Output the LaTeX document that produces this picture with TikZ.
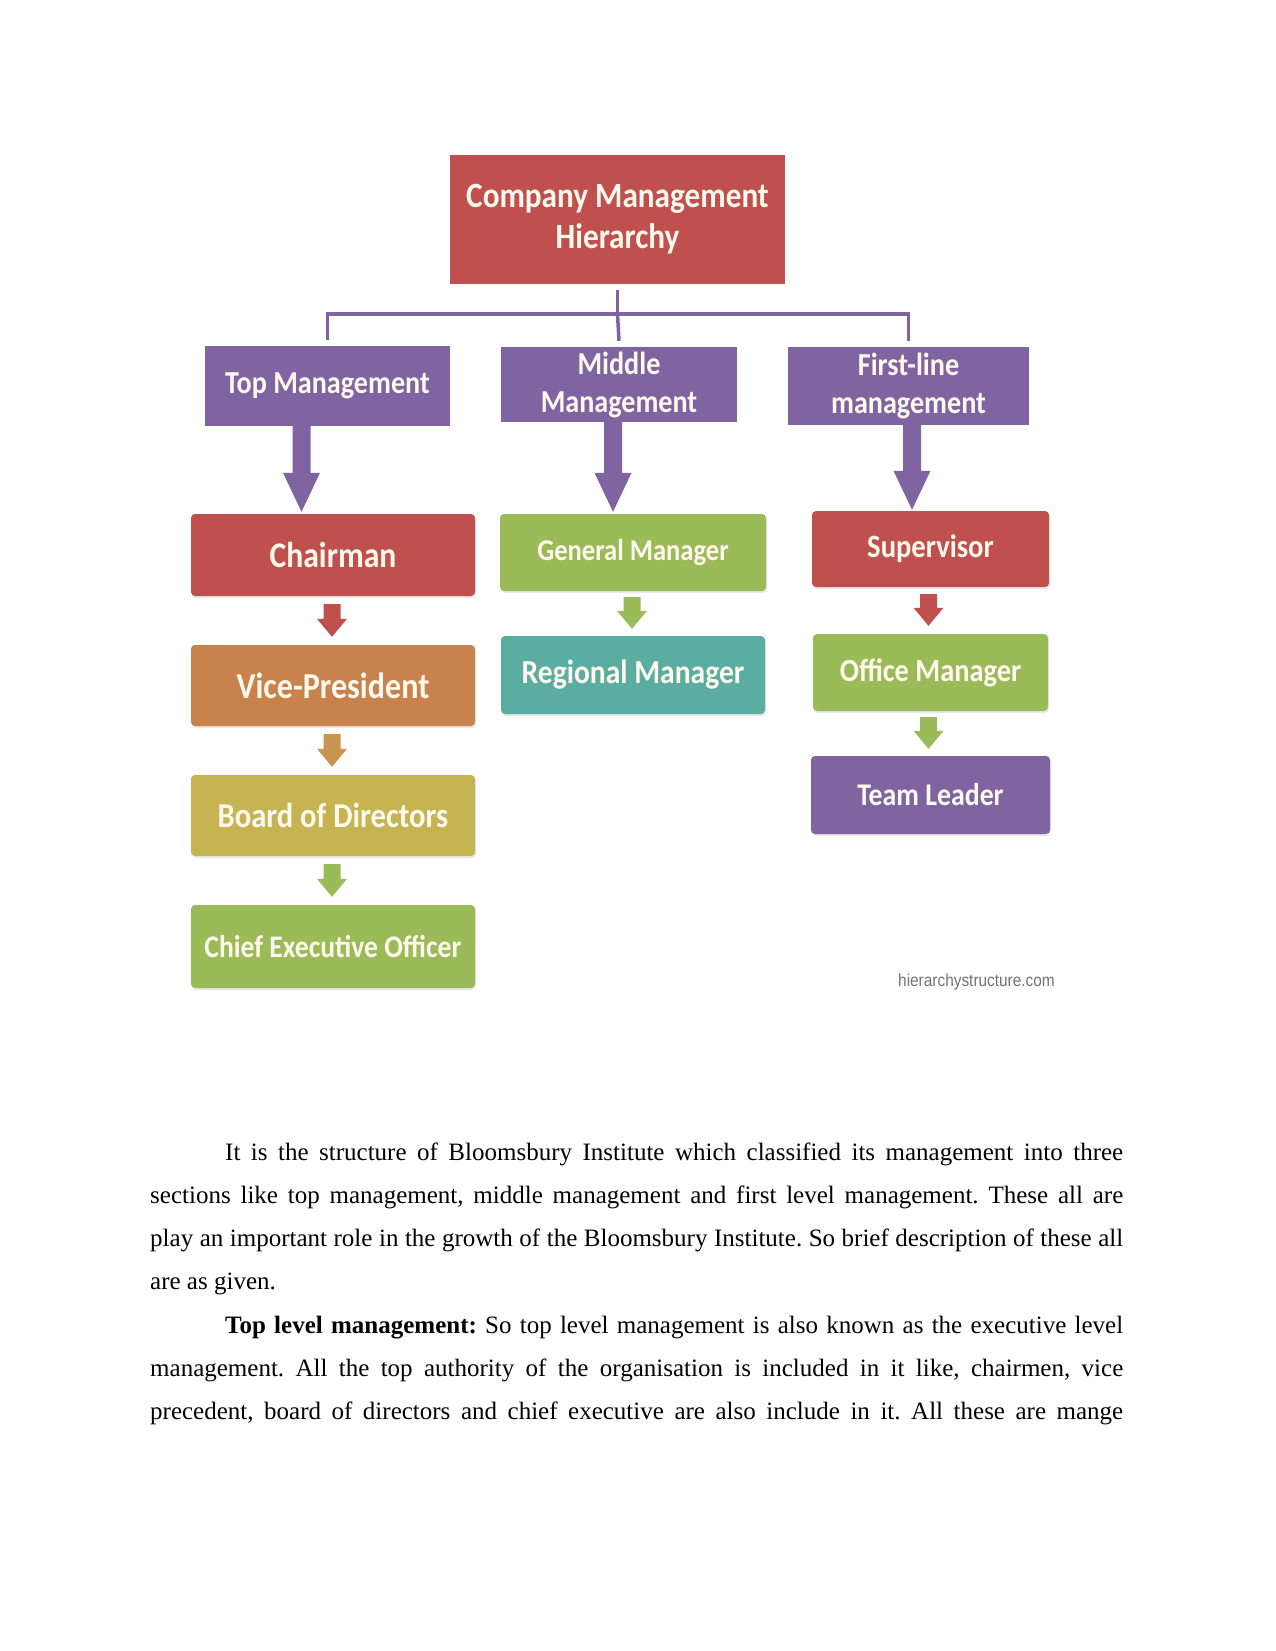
\documentclass[tikz,border=0pt]{standalone}
\usepackage{fontspec}
\setmainfont{Liberation Serif}
\newfontfamily\boxfont{Carlito}[FakeStretch=0.88]
\newfontfamily\webfont{Liberation Sans}[FakeStretch=0.88]
\usetikzlibrary{calc,shadows}
\definecolor{cred}{HTML}{C0504D}
\definecolor{cpurp}{HTML}{8064A2}
\definecolor{cgreen}{HTML}{9BBB59}
\definecolor{cteal}{HTML}{5BADA2}
\definecolor{corange}{HTML}{C8824B}
\definecolor{carrorange}{HTML}{C9944F}
\definecolor{colive}{HTML}{C6B452}
\definecolor{ctext}{HTML}{FFF9EE}
\newcommand\fs[2]{\fontsize{#1}{#2}\selectfont}
% block arrow: colour, start point, tip point, shaft half width, head half width, head length
\newcommand\blockarr[6]{\fill[#1] let \p1=(#2), \p2=(#3) in
  (\x1-#4,\y1) -- (\x1-#4,\y2+#6) -- (\x1-#5,\y2+#6) -- (\x1,\y2) --
  (\x1+#5,\y2+#6) -- (\x1+#4,\y2+#6) -- (\x1+#4,\y1) -- cycle;}
\begin{document}
\begin{tikzpicture}[x=1pt,y=-1pt,
  hbox/.style={fill=#1, text=ctext, align=center, inner sep=0pt},
  lbox/.style={hbox=#1, rounded corners=4pt,
    drop shadow={shadow xshift=1pt,shadow yshift=-2pt,opacity=0.18}},
  bf/.style={font=\boxfont\bfseries\fs{#1}{38}},
  conn/.style={draw=cpurp, line width=3.5pt}]
\useasboundingbox (0,0) rectangle (1275,1651);
\fill[white] (0,0) rectangle (1275,1651);

% title
\node[hbox=cred, font=\boxfont\bfseries\fs{35.5}{41}, minimum width=335pt, minimum height=129pt] (title) at (617.5,219.5)
  {Company Management\\Hierarchy};

% level 2
\node[hbox=cpurp, bf=32, minimum width=245pt, minimum height=80pt] (topm) at (327.5,386)
  {Top Management};
\node[hbox=cpurp, bf=32, minimum width=236pt, minimum height=75pt] (midm) at (619,384.5)
  {Middle\\Management};
\node[hbox=cpurp, bf=32, minimum width=241pt, minimum height=78pt] (firstm) at (908.5,386)
  {First-line\\management};

% tree connector
\coordinate (hub) at ($(title.south)+(0,30)$);
\draw[conn] ([yshift=-6pt]title.south) -- (hub);
\draw[conn] ([yshift=6pt]topm.north) |- (hub) -| ([yshift=6pt]firstm.north);
\draw[conn] (hub) -- ([yshift=6pt]midm.north);

% left column
\node[lbox=cred, bf=36, minimum width=284pt, minimum height=82pt] (chair) at (333,555)
  {Chairman};
\node[lbox=corange, bf=36.5, minimum width=284pt, minimum height=81pt] (vp) at (333,685.5)
  {Vice-President};
\node[lbox=colive, bf=34.8, minimum width=284pt, minimum height=81pt] (board) at (333,815.5)
  {Board of Directors};
\node[lbox=cgreen, bf=31.4, minimum width=284pt, minimum height=83pt] (ceo) at (333,946.5)
  {Chief Executive Officer};

% middle column
\node[lbox=cgreen, bf=30.2, minimum width=266pt, minimum height=77pt] (gm) at (633,552.5)
  {General Manager};
\node[lbox=cteal, bf=33.6, minimum width=264pt, minimum height=78pt] (rm) at (633,675)
  {Regional Manager};

% right column
\node[lbox=cred, bf=32.5, minimum width=237pt, minimum height=76pt] (sup) at (930.5,549)
  {Supervisor};
\node[lbox=cgreen, bf=32.3, minimum width=235pt, minimum height=77pt] (office) at (930.5,672.5)
  {Office Manager};
\node[lbox=cpurp, bf=31.6, minimum width=239pt, minimum height=78pt] (team) at (930.5,795)
  {Team Leader};

% big arrows
\blockarr{cpurp}{[xshift=-26pt]topm.south}{[xshift=-26pt,yshift=2pt]chair.north}{9pt}{18.5pt}{39pt}
\blockarr{cpurp}{[xshift=-6pt]midm.south}{[yshift=2pt]gm.north}{9pt}{18.5pt}{39pt}
\blockarr{cpurp}{[xshift=3.5pt]firstm.south}{[yshift=1pt]sup.north}{9pt}{18.5pt}{39pt}

% small arrows
\blockarr{cred}{[xshift=-1pt,yshift=-8pt]chair.south}{[yshift=8pt]vp.north}{8.5pt}{15pt}{18pt}
\blockarr{carrorange}{[xshift=-1pt,yshift=-8pt]vp.south}{[yshift=8pt]board.north}{8.5pt}{15pt}{18pt}
\blockarr{cgreen}{[xshift=-1pt,yshift=-8pt]board.south}{[yshift=8pt]ceo.north}{8.5pt}{15pt}{18pt}
\blockarr{cgreen}{[xshift=-1pt,yshift=-6pt]gm.south}{[yshift=7pt]rm.north}{8.5pt}{15pt}{18pt}
\blockarr{cred}{[xshift=-2pt,yshift=-7pt]sup.south}{[yshift=8pt]office.north}{8.5pt}{15pt}{18pt}
\blockarr{cgreen}{[xshift=-2pt,yshift=-6pt]office.south}{[yshift=7pt]team.north}{8.5pt}{15pt}{18pt}

% credit
\node[anchor=base east, inner sep=0pt, text=black!55, font=\webfont\fs{17.5}{20}] (credit) at (1055,986)
  {hierarchystructure.com};

% body text
\node[anchor=north west, inner sep=0pt, text width=973pt, align=justify,
      font=\fs{25}{43.2}] (body) at (150,1130)
  {\parindent=0pt\relax\frenchspacing\hyphenpenalty=10000\exhyphenpenalty=10000\tolerance=10000
   \hspace*{75pt}\rule{0pt}{30pt}It is the structure of Bloomsbury Institute which classified its management into three\linebreak
   sections like top management, middle management and first level management. These all are\linebreak
   play an important role in the growth of the Bloomsbury Institute. So brief description of these all\linebreak
   are as given.\par
   {\parfillskip=0pt\hspace*{75pt}\textbf{Top level management:} So top level management is also known as the executive level\linebreak
   management. All the top authority of the organisation is included in it like, chairmen, vice\linebreak
   precedent, board of directors and chief executive are also include in it. All these are mange\par}};
\end{tikzpicture}
\end{document}
